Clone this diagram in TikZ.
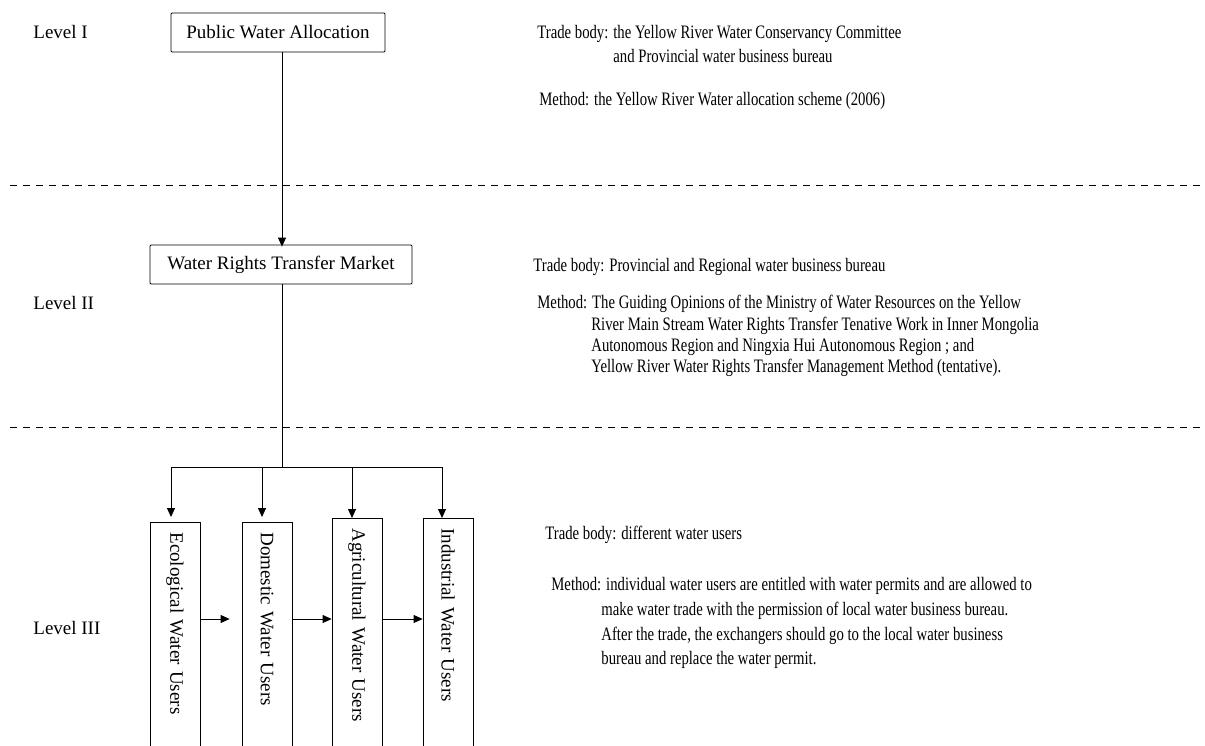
\documentclass[tikz,border=0pt]{standalone}
\usepackage{fontspec}
\setmainfont{Liberation Serif}
\newfontfamily\narrowfont{Liberation Serif}[FakeStretch=0.775]
\usetikzlibrary{arrows.meta}

\tikzset{
    box/.style={draw, rounded corners=1pt, minimum height=39, inner xsep=12, font=\fontsize{19}{22}\selectfont},
    userbox/.style={draw, rotate=-90, anchor=west, minimum width=260, minimum height=50,
        text width=240, align=left, inner xsep=8, font=\fontsize{19}{22}\selectfont},
    lvl/.style={anchor=base west, inner sep=0, font=\fontsize{19}{22}\selectfont},
    note/.style={anchor=base west, inner sep=0, font=\narrowfont\fontsize{19}{22}\selectfont},
    arr/.style={-{Triangle[length=9pt,width=8pt]}},
    sep/.style={dash pattern=on 7pt off 6pt}
}

\begin{document}
\begin{tikzpicture}[x=1pt, y=-1pt, line width=0.8pt]
    \useasboundingbox (0,0) rectangle (1205,745);
    \clip (0,0) rectangle (1205,745);

    % levels
    \node[lvl] (L1) at (33,38) {Level I};
    \node[lvl] (L2) at (33,309) {Level II};
    \node[lvl] (L3) at (33,634) {Level III};

    \draw[sep] (10,185) -- (1205,185);
    \draw[sep] (10,427) -- (1205,427);

    % main boxes
    \node[box, minimum width=214] (pwa) at (278,32.5) {Public Water Allocation};
    \node[box, minimum width=262] (wrtm) at (281,264.5) {Water Rights Transfer Market};
    \coordinate (tk) at (282,467);

    % users (rotated: west = top, north = right side, south = left side)
    \node[userbox] (eco) at (175,522) {Ecological Water Users};
    \node[userbox] (dom) at (267,522) {Domestic Water Users};
    \node[userbox] (agr) at (357,518) {Agricultural Water Users};
    \node[userbox] (ind) at (448,518) {Industrial Water Users};

    \coordinate (b1) at (171,467);
    \coordinate (b2) at (262,467);
    \coordinate (b3) at (352,467);
    \coordinate (b4) at (442,467);
    \coordinate (row) at (0,619);

    \draw[arr] (pwa.south -| tk) -- ([yshift=-2]wrtm.north -| tk);
    \draw (wrtm.south -| tk) -- (tk);
    \draw (b1) -- (b4);
    \draw[arr, shorten >=5pt] (b1) -- (eco.west -| b1);
    \draw[arr, shorten >=5pt] (b2) -- (dom.west -| b2);
    \draw[arr] (b3) -- (agr.west -| b3);
    \draw[arr] (b4) -- (ind.west -| b4);

    \draw[arr, shorten >=12pt] (eco.north |- row) -- (dom.south |- row);
    \draw[arr] (dom.north |- row) -- (agr.south |- row);
    \draw[arr] (agr.north |- row) -- (ind.south |- row);

    % notes
    \node[note] (t1) at (537,38) {Trade body: the Yellow River Water Conservancy Committee};
    \node[note] (t1b) at (613,62) {and Provincial water business bureau};
    \node[note] (m1) at (539,105) {Method: the Yellow River Water allocation scheme (2006)};

    \node[note] (t2) at (533,271) {Trade body: Provincial and Regional water business bureau};
    \node[note] (m2) at (537,308) {Method: The Guiding Opinions of the Ministry of Water Resources on the Yellow};
    \node[note] (m2b) at (591,330) {River Main Stream Water Rights Transfer Tenative Work in Inner Mongolia};
    \node[note] (m2c) at (591,351) {Autonomous Region and Ningxia Hui Autonomous Region ; and};
    \node[note] (m2d) at (591,372) {Yellow River Water Rights Transfer Management Method (tentative).};

    \node[note] (t3) at (545,539) {Trade body: different water users};
    \node[note] (m3) at (551,590) {Method: individual water users are entitled with water permits and are allowed to};
    \node[note] (m3b) at (601,615) {make water trade with the permission of local water business bureau.};
    \node[note] (m3c) at (601,640) {After the trade, the exchangers should go to the local water business};
    \node[note] (m3d) at (601,664) {bureau and replace the water permit.};
\end{tikzpicture}
\end{document}
